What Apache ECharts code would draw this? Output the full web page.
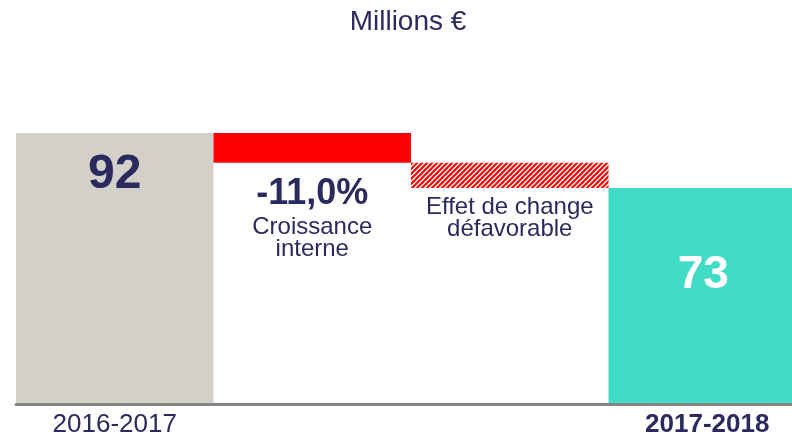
<!DOCTYPE html>
<html>
<head>
<meta charset="utf-8">
<script src="https://cdn.jsdelivr.net/npm/echarts@6/dist/echarts.min.js"></script>
<style>
html,body{margin:0;padding:0;background:#fff;}
#c{width:792px;height:435px;}
</style>
</head>
<body>
<div id="c"></div>
<script>
// ---- data ----
var categories = ['2016-2017', '', '', '2017-2018'];
var startValue = 92;
var changes = [-10.1, -8.5];
var endValue = 73.4;
var valueLabels = ['92', '-11,0%', '', '73'];
var changeNames = ['Croissance\ninterne', 'Effet de change\ndéfavorable'];
var unitTitle = 'Millions €';

var NAVY = '#2B2A5F';
var FONT = '"Liberation Sans", Arial, sans-serif';

// hatch pattern
var pc = document.createElement('canvas');
pc.width = 5; pc.height = 5;
var g = pc.getContext('2d');
g.fillStyle = '#fff'; g.fillRect(0, 0, 5, 5);
g.strokeStyle = '#ff0000'; g.lineWidth = 2.2;
g.beginPath();
g.moveTo(-1, 6); g.lineTo(6, -1);
g.moveTo(-1, 1); g.lineTo(1, -1);
g.moveTo(4, 6); g.lineTo(6, 4);
g.stroke();

// waterfall geometry from data
var after1 = startValue + changes[0];
var after2 = after1 + changes[1];
var baseData = [0, after1, after2, 0];
var barData = [
  { value: startValue, itemStyle: { color: '#D3D0C9' },
    label: { show: true, position: 'insideTop', distance: 18, formatter: valueLabels[0],
      fontSize: 48, lineHeight: 48, fontWeight: 'bold', color: NAVY, fontFamily: FONT } },
  { value: -changes[0], itemStyle: { color: '#FF0000' },
    label: { show: true, position: 'bottom', distance: 9,
      formatter: '{a|' + valueLabels[1] + '}\n{b|' + changeNames[0].split('\n').join('}\n{b|') + '}',
      rich: {
        a: { fontSize: 36, lineHeight: 45, fontWeight: 'bold', color: NAVY, fontFamily: FONT, align: 'center' },
        b: { fontSize: 24, lineHeight: 22, color: NAVY, fontFamily: FONT, align: 'center' }
      } } },
  { value: -changes[1], itemStyle: { color: { image: pc, repeat: 'repeat' } },
    label: { show: true, position: 'bottom', distance: 8,
      formatter: '{b|' + changeNames[1].split('\n').join('}\n{b|') + '}',
      rich: {
        b: { fontSize: 24, lineHeight: 22.5, color: NAVY, fontFamily: FONT, align: 'center' }
      } } },
  { value: endValue, itemStyle: { color: '#40DCC8' },
    label: { show: true, position: 'insideTop', distance: 64, offset: [-4, 0], formatter: valueLabels[3],
      fontSize: 46, lineHeight: 46, fontWeight: 'bold', color: '#fff', fontFamily: FONT } }
];

var chart = echarts.init(document.getElementById('c'), null, { renderer: 'canvas' });
chart.setOption({
  animation: false,
  backgroundColor: '#fff',
  grid: { left: 16, right: -14, top: 109.4, bottom: 30.5, containLabel: false, outerBoundsMode: 'none' },
  xAxis: {
    type: 'category',
    data: [
      { value: categories[0] },
      { value: categories[1] },
      { value: categories[2] },
      { value: categories[3], textStyle: { fontWeight: 'bold' } }
    ],
    axisTick: { show: false },
    axisLine: { show: true, lineStyle: { color: '#858585', width: 3 } },
    axisLabel: { interval: 0, fontSize: 26, lineHeight: 26, margin: 7, color: NAVY, fontFamily: FONT },
    z: 10
  },
  yAxis: { type: 'value', show: false, min: 0, max: 100, splitLine: { show: false } },
  graphic: [{
    type: 'text', x: 408, y: 22,
    style: { text: unitTitle, fontSize: 28, fill: NAVY, fontFamily: FONT,
      textAlign: 'center', textVerticalAlign: 'middle' }
  }],
  series: [
    { type: 'bar', stack: 'w', data: baseData, itemStyle: { color: 'transparent' },
      barCategoryGap: '0%', silent: true },
    { type: 'bar', stack: 'w', data: barData, barCategoryGap: '0%' }
  ]
});
</script>
</body>
</html>
